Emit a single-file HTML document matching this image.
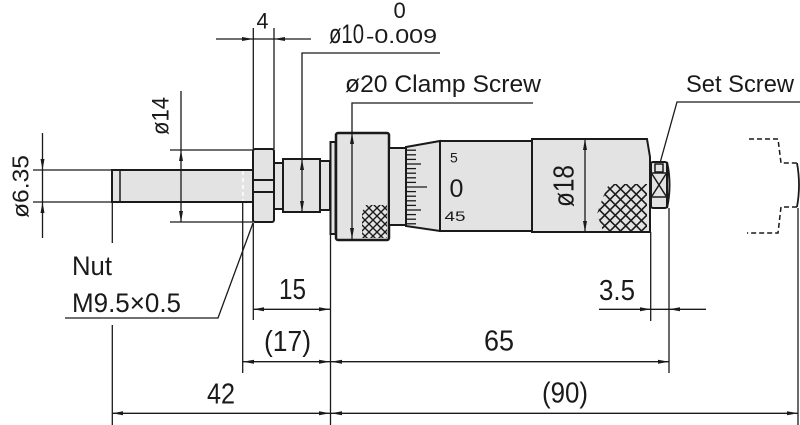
<!DOCTYPE html>
<html><head><meta charset="utf-8"><style>
html,body{margin:0;padding:0;background:#fff;}
svg{display:block;}
text{font-family:"Liberation Sans",sans-serif;fill:#1a1a1a;}
</style></head><body>
<svg width="800" height="425" viewBox="0 0 800 425" xmlns="http://www.w3.org/2000/svg">
<defs>
<pattern id="kn" patternUnits="userSpaceOnUse" width="10.5" height="10.5" x="1" y="0">
<path d="M-1,-1 L11.5,11.5 M-1,11.5 L11.5,-1" stroke="#1a1a1a" stroke-width="1.6" fill="none"/>
</pattern>
<pattern id="kn2" patternUnits="userSpaceOnUse" width="8" height="8" x="1" y="0">
<path d="M-1,-1 L9,9 M-1,9 L9,-1" stroke="#1a1a1a" stroke-width="1.4" fill="none"/>
</pattern>
</defs>

<g fill="#e3e3e3" stroke="#1a1a1a" stroke-width="2">
<rect x="112" y="170" width="141" height="32"/>
<rect x="253" y="149" width="21" height="73" rx="2"/>
<rect x="274" y="163" width="9" height="46"/>
<rect x="283" y="159" width="37" height="53"/>
<rect x="320" y="161" width="10" height="49"/>
<rect x="330.5" y="142" width="5" height="92"/>
<rect x="336" y="133" width="53" height="107" rx="2" stroke-width="2.5"/>
<rect x="389" y="148" width="17" height="77"/>
<polygon points="406,147 440,141 440,231 406,226"/>
<rect x="440" y="141" width="92" height="90"/>
<polygon points="532,139 647,139 650,157 650,232 532,232"/>
<rect x="651" y="162" width="16" height="46" rx="2"/>
</g>

<line x1="120" y1="170" x2="120" y2="202" stroke="#1a1a1a" stroke-width="1.5"/>
<line x1="243" y1="171" x2="243" y2="201" stroke="#fff" stroke-width="1.5" stroke-dasharray="4 3"/>
<g stroke="#1a1a1a" stroke-width="2">
<line x1="253" y1="180" x2="274" y2="180"/>
<line x1="253" y1="192" x2="274" y2="192"/>
</g>
<g stroke="#1a1a1a" stroke-width="1.5" fill="none">
<rect x="655" y="164" width="8" height="8"/>
<line x1="651" y1="173" x2="667" y2="173"/>
<line x1="651" y1="197" x2="667" y2="197"/>
<line x1="652" y1="174" x2="666" y2="196"/>
<line x1="666" y1="174" x2="652" y2="196"/>
<path d="M667,162 Q672,185 667,208" stroke-width="2"/>
</g>

<polygon points="609,184 647,184 647,231 603,231 597,214 603,197" fill="url(#kn)"/>
<polygon points="366,205 387,205 387,238 362,238 362,212" fill="url(#kn2)"/>

<g stroke="#1a1a1a" stroke-width="1.3">
<line x1="407" y1="150.2" x2="416" y2="150.2"/>
<line x1="407" y1="154.8" x2="416" y2="154.8"/>
<line x1="407" y1="159.4" x2="416" y2="159.4"/>
<line x1="407" y1="164" x2="421" y2="164"/>
<line x1="407" y1="168.6" x2="416" y2="168.6"/>
<line x1="407" y1="173.2" x2="416" y2="173.2"/>
<line x1="407" y1="177.8" x2="416" y2="177.8"/>
<line x1="407" y1="182.4" x2="416" y2="182.4"/>
<line x1="407" y1="187" x2="427" y2="187"/>
<line x1="407" y1="191.6" x2="416" y2="191.6"/>
<line x1="407" y1="196.2" x2="416" y2="196.2"/>
<line x1="407" y1="200.8" x2="416" y2="200.8"/>
<line x1="407" y1="205.4" x2="416" y2="205.4"/>
<line x1="407" y1="210" x2="421" y2="210"/>
<line x1="407" y1="214.6" x2="416" y2="214.6"/>
<line x1="407" y1="219.2" x2="416" y2="219.2"/>
<line x1="407" y1="223.8" x2="416" y2="223.8"/>
</g>

<path d="M749,139 H778 L781,163 H797 M797,207 H781 L778,233 H747" fill="none" stroke="#1a1a1a" stroke-width="1.5" stroke-dasharray="5 3"/>
<path d="M797,163 Q801,185 797,207" fill="none" stroke="#1a1a1a" stroke-width="1.8"/>

<g stroke="#1a1a1a" stroke-width="1.3" fill="none">
<line x1="42.5" y1="133" x2="42.5" y2="238"/>
<line x1="33" y1="170" x2="112" y2="170"/>
<line x1="33" y1="202" x2="112" y2="202"/>
<line x1="181" y1="91" x2="181" y2="222"/>
<line x1="170" y1="150" x2="253" y2="150"/>
<line x1="170" y1="222" x2="253" y2="222"/>
<line x1="253.3" y1="28" x2="253.3" y2="149"/>
<line x1="274" y1="28" x2="274" y2="149"/>
<line x1="216" y1="39" x2="311" y2="39"/>
<path d="M302,212 V53 H440"/>
<path d="M352,239 V103 H533"/>
<line x1="585" y1="139" x2="585" y2="232"/>
<path d="M660,163 L677,102 H800"/>
<path d="M253,223 L218,318 H65"/>
<line x1="112.3" y1="203" x2="112.3" y2="243"/>
<line x1="112.3" y1="325" x2="112.3" y2="425"/>
<line x1="242.7" y1="203" x2="242.7" y2="373"/>
<line x1="253.3" y1="223" x2="253.3" y2="320"/>
<line x1="330.5" y1="234" x2="330.5" y2="425"/>
<line x1="650.7" y1="232" x2="650.7" y2="321"/>
<line x1="669" y1="208" x2="669" y2="373"/>
<line x1="798" y1="208" x2="798" y2="425"/>
<line x1="253.3" y1="309.3" x2="330" y2="309.3"/>
<line x1="242.7" y1="361.7" x2="669" y2="361.7"/>
<line x1="112.3" y1="413.3" x2="798" y2="413.3"/>
<line x1="599" y1="309.3" x2="706" y2="309.3"/>
</g>

<g fill="#1a1a1a">
<polygon points="42.5,170 40.5,159 44.5,159"/>
<polygon points="42.5,202 40.5,213 44.5,213"/>
<polygon points="181,150 179,161 183,161"/>
<polygon points="181,222 179,211 183,211"/>
<polygon points="253.3,39 242,37 242,41"/>
<polygon points="274,39 285,37 285,41"/>
<polygon points="302,159 300,170 304,170"/>
<polygon points="302,212 300,201 304,201"/>
<polygon points="352,133 350,144 354,144"/>
<polygon points="352,239 350,228 354,228"/>
<polygon points="585,139 583,150 587,150"/>
<polygon points="585,232 583,221 587,221"/>
<polygon points="253.3,309.3 264,307.3 264,311.3"/>
<polygon points="330,309.3 319,307.3 319,311.3"/>
<polygon points="242.7,361.7 254,359.7 254,363.7"/>
<polygon points="330,361.7 319,359.7 319,363.7"/>
<polygon points="331,361.7 342,359.7 342,363.7"/>
<polygon points="669,361.7 658,359.7 658,363.7"/>
<polygon points="112.3,413.3 123,411.3 123,415.3"/>
<polygon points="330,413.3 319,411.3 319,415.3"/>
<polygon points="331,413.3 342,411.3 342,415.3"/>
<polygon points="798,413.3 787,411.3 787,415.3"/>
<polygon points="650.7,309.3 640,307.3 640,311.3"/>
<polygon points="669,309.3 680,307.3 680,311.3"/>
</g>

<text x="345" y="92" font-size="24" textLength="196" lengthAdjust="spacingAndGlyphs">ø20 Clamp Screw</text>
<text x="686" y="92" font-size="24" textLength="108" lengthAdjust="spacingAndGlyphs">Set Screw</text>
<text x="256.5" y="28.5" font-size="22" textLength="12" lengthAdjust="spacingAndGlyphs">4</text>
<text x="329" y="43" font-size="27" textLength="35" lengthAdjust="spacingAndGlyphs">ø10</text>
<text x="366" y="43" font-size="20" textLength="71" lengthAdjust="spacingAndGlyphs">-0.009</text>
<text x="393.5" y="18" font-size="22">0</text>
<text x="72" y="275" font-size="27" textLength="40" lengthAdjust="spacingAndGlyphs">Nut</text>
<text x="72" y="312" font-size="27" textLength="109" lengthAdjust="spacingAndGlyphs">M9.5×0.5</text>
<text x="279" y="299" font-size="29" textLength="27" lengthAdjust="spacingAndGlyphs">15</text>
<text x="264" y="351" font-size="29" textLength="47" lengthAdjust="spacingAndGlyphs">(17)</text>
<text x="484" y="350.7" font-size="29" textLength="30" lengthAdjust="spacingAndGlyphs">65</text>
<text x="207" y="403.3" font-size="29" textLength="28" lengthAdjust="spacingAndGlyphs">42</text>
<text x="542" y="402.5" font-size="29" textLength="46" lengthAdjust="spacingAndGlyphs">(90)</text>
<text x="599" y="300" font-size="29" textLength="36" lengthAdjust="spacingAndGlyphs">3.5</text>
<text x="450" y="162.3" font-size="14">5</text>
<text x="449.5" y="197" font-size="25">0</text>
<text x="444.5" y="221" font-size="14" textLength="21" lengthAdjust="spacingAndGlyphs">45</text>

<text transform="translate(168.5,116) rotate(-90)" text-anchor="middle" font-size="24" textLength="38" lengthAdjust="spacingAndGlyphs">ø14</text>
<text transform="translate(28.5,186.5) rotate(-90)" text-anchor="middle" font-size="23" textLength="63" lengthAdjust="spacingAndGlyphs">ø6.35</text>
<text transform="translate(573.5,186) rotate(-90)" text-anchor="middle" font-size="29" textLength="42" lengthAdjust="spacingAndGlyphs">ø18</text>
</svg>
</body></html>
